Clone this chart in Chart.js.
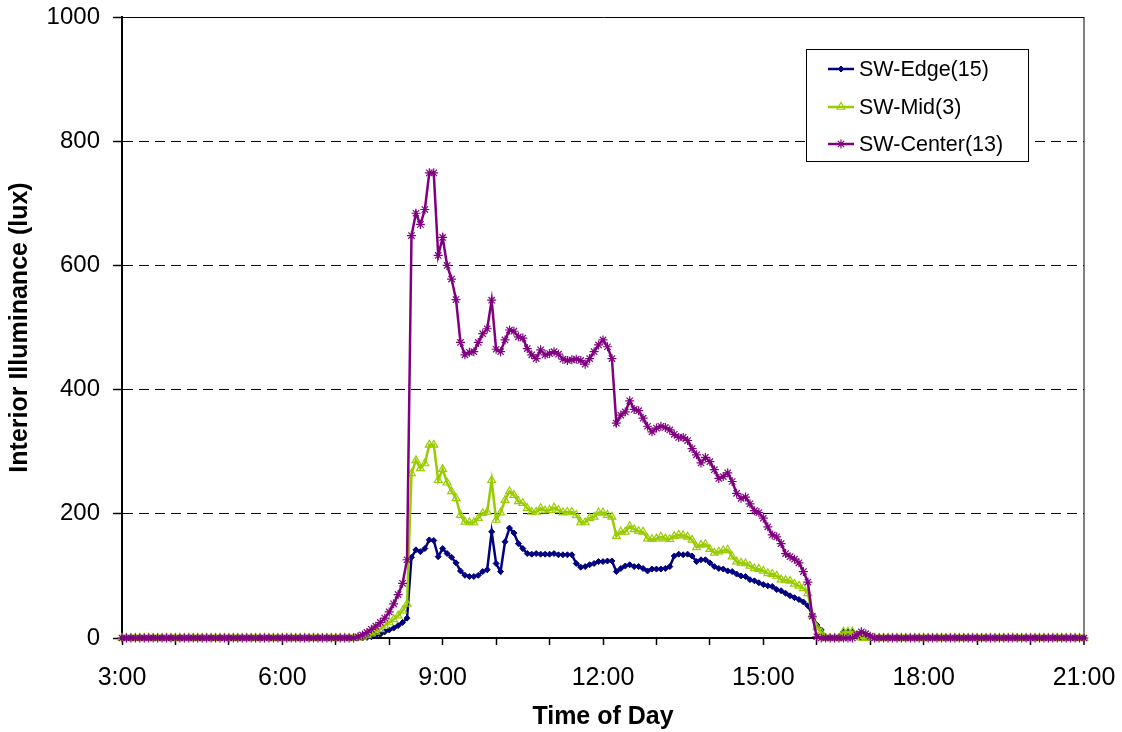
<!DOCTYPE html>
<html>
<head>
<meta charset="utf-8">
<script src="https://cdn.jsdelivr.net/npm/chart.js@4.4.1/dist/chart.umd.min.js"></script>
<style>
  html, body { margin: 0; padding: 0; background: #ffffff; }
  #wrap { width: 1122px; height: 732px; position: relative; background: #ffffff; }
  canvas { display: block; }
</style>
</head>
<body>
<div id="wrap"><canvas id="chart" width="1122" height="732"></canvas></div>
<script>
// ---- Data (5-minute readings from 3:00 to 21:00) ----
const startHour = 3;
const stepMinutes = 5;

const seriesNames = ['SW-Edge(15)', 'SW-Mid(3)', 'SW-Center(13)'];

const edgeValues = [
  0,0,0,0,0,0,0,0,0,0,0,0,                       // 3:00
  0,0,0,0,0,0,0,0,0,0,0,0,                       // 4:00
  0,0,0,0,0,0,0,0,0,0,0,0,                       // 5:00
  0,0,0,0,0,0,0,0,0,0,0,0,                       // 6:00
  0,0,0,0,0,0,0,1,2,4,6,10,                      // 7:00
  13,16,20,25,32,130,142,139,144,158,157,131,    // 8:00
  144,136,130,121,108,101,99,99,101,107,110,171, // 9:00
  120,107,155,177,169,152,144,136,135,136,135,135, // 10:00
  135,136,134,134,134,134,120,114,115,118,120,123, // 11:00
  123,124,124,107,112,116,118,115,115,112,108,111, // 12:00
  111,111,112,115,132,135,134,135,132,123,126,126, // 13:00
  121,115,112,111,108,107,103,100,99,94,92,89,   // 14:00
  86,84,83,78,76,72,68,65,62,58,52,37,           // 15:00
  21,13,0,0,0,0,10,10,10,3,0,0,                  // 16:00
  0,0,0,0,0,0,0,0,0,0,0,0,                       // 17:00
  0,0,0,0,0,0,0,0,0,0,0,0,                       // 18:00
  0,0,0,0,0,0,0,0,0,0,0,0,                       // 19:00
  0,0,0,0,0,0,0,0,0,0,0,0,                       // 20:00
  0                                              // 21:00
];

const midValues = [
  0,0,0,0,0,0,0,0,0,0,0,0,
  0,0,0,0,0,0,0,0,0,0,0,0,
  0,0,0,0,0,0,0,0,0,0,0,0,
  0,0,0,0,0,0,0,0,0,0,0,0,
  0,0,0,0,0,0,2,4,7,10,14,20,
  25,30,36,44,55,265,286,273,281,311,311,254,
  272,250,236,225,198,187,186,186,193,201,203,254,
  190,202,222,236,230,220,217,209,203,203,209,205,
  206,210,206,202,203,203,198,186,186,193,195,202,
  202,198,195,164,171,171,180,175,172,171,160,159,
  160,163,160,159,164,166,165,163,158,146,150,151,
  143,137,139,141,142,131,123,121,120,116,112,111,
  108,104,103,100,94,93,92,87,84,80,72,36,
  17,9,0,0,0,0,10,10,10,4,0,0,
  0,0,0,0,0,0,0,0,0,0,0,0,
  0,0,0,0,0,0,0,0,0,0,0,0,
  0,0,0,0,0,0,0,0,0,0,0,0,
  0,0,0,0,0,0,0,0,0,0,0,0,
  0
];

const centerValues = [
  0,0,0,0,0,0,0,0,0,0,0,0,
  0,0,0,0,0,0,0,0,0,0,0,0,
  0,0,0,0,0,0,0,0,0,0,0,0,
  0,0,0,0,0,0,0,0,0,0,0,0,
  0,0,0,0,0,2,5,9,14,19,25,32,
  42,55,70,88,126,648,684,666,690,749,749,616,
  645,600,578,545,476,456,460,461,476,490,498,544,
  465,461,480,496,494,485,483,466,456,450,464,456,
  458,461,457,449,447,448,449,447,441,450,461,472,
  480,469,450,346,359,364,382,368,366,354,341,332,
  338,341,339,335,328,323,323,318,305,295,282,291,
  284,271,257,260,266,252,233,225,227,216,205,202,
  193,179,166,163,152,136,131,127,121,107,90,35,
  2,0,0,0,0,0,0,0,0,5,10,7,
  3,0,0,0,0,0,0,0,0,0,0,0,
  0,0,0,0,0,0,0,0,0,0,0,0,
  0,0,0,0,0,0,0,0,0,0,0,0,
  0,0,0,0,0,0,0,0,0,0,0,0,
  0
];

const xTickHours = [3, 6, 9, 12, 15, 18, 21];
const xTickLabels = ['3:00', '6:00', '9:00', '12:00', '15:00', '18:00', '21:00'];
const yTickValues = [0, 200, 400, 600, 800, 1000];
const yTickLabels = ['0', '200', '400', '600', '800', '1000'];
const xTitle = 'Time of Day';
const yTitle = 'Interior Illuminance (lux)';

// ---- Build points ----
function toPoints(values) {
  return values.map((v, i) => ({ x: startHour + (i * stepMinutes) / 60, y: v }));
}

const FONT = "'Liberation Sans', Arial, sans-serif";
Chart.defaults.font.family = FONT;
Chart.defaults.color = '#000000';

const legendPlugin = {
  id: 'boxLegend',
  afterDraw(chart) {
    const ctx = chart.ctx;
    const box = { x: 806, y: 49, w: 222, h: 112 };
    ctx.save();
    ctx.fillStyle = '#ffffff';
    ctx.fillRect(box.x, box.y, box.w, box.h);
    ctx.strokeStyle = '#000000';
    ctx.lineWidth = 1;
    ctx.strokeRect(box.x + 0.5, box.y + 0.5, box.w, box.h);
    const rows = [69, 107, 144];
    chart.data.datasets.forEach((ds, i) => {
      const y = rows[i];
      ctx.strokeStyle = ds.borderColor;
      ctx.lineWidth = 2.5;
      ctx.beginPath();
      ctx.moveTo(828, y);
      ctx.lineTo(854, y);
      ctx.stroke();
      ctx.fillStyle = ds.pointBackgroundColor;
      ctx.strokeStyle = ds.pointBorderColor;
      ctx.lineWidth = ds.pointBorderWidth;
      Chart.helpers.drawPoint(ctx, { pointStyle: ds.pointStyle, radius: ds.pointRadius, rotation: 0, borderWidth: ds.pointBorderWidth }, 841, y);
      ctx.fillStyle = '#000000';
      ctx.font = '21.5px ' + FONT;
      ctx.textBaseline = 'middle';
      ctx.textAlign = 'left';
      ctx.fillText(ds.label, 859, y + 1);
    });
    ctx.restore();
  }
};

new Chart(document.getElementById('chart'), {
  type: 'line',
  data: {
    datasets: [
      {
        label: seriesNames[0],
        data: toPoints(edgeValues),
        borderColor: '#000080',
        backgroundColor: '#000080',
        pointBackgroundColor: '#000080',
        pointBorderColor: '#000080',
        pointStyle: 'rectRot',
        pointRadius: 3,
        pointBorderWidth: 1,
        borderWidth: 2.5,
        order: 3
      },
      {
        label: seriesNames[1],
        data: toPoints(midValues),
        borderColor: '#99CC00',
        backgroundColor: '#99CC00',
        pointBackgroundColor: 'rgba(255,255,255,0)',
        pointBorderColor: '#99CC00',
        pointStyle: 'triangle',
        pointRadius: 4.5,
        pointBorderWidth: 1.2,
        borderWidth: 2.5,
        order: 2
      },
      {
        label: seriesNames[2],
        data: toPoints(centerValues),
        borderColor: '#800080',
        backgroundColor: '#800080',
        pointBackgroundColor: '#800080',
        pointBorderColor: '#800080',
        pointStyle: 'star',
        pointRadius: 4.5,
        pointBorderWidth: 1.2,
        borderWidth: 2.5,
        order: 1
      }
    ]
  },
  options: {
    responsive: false,
    animation: false,
    devicePixelRatio: 1,
    layout: { padding: { top: 17, right: 38, bottom: 0, left: 0 } },
    datasets: { line: { tension: 0, clip: false, fill: false } },
    plugins: {
      legend: { display: false },
      tooltip: { enabled: false }
    },
    scales: {
      x: {
        type: 'linear',
        position: 'bottom',
        min: 3,
        max: 21,
        afterFit(scale) {
          scale.height = 94;
          scale.paddingLeft = 0;
          scale.paddingRight = 0;
        },
        afterBuildTicks(scale) {
          const t = [];
          for (let h = 3; h <= 21; h++) t.push({ value: h });
          scale.ticks = t;
        },
        ticks: {
          autoSkip: false,
          maxRotation: 0,
          font: { size: 25 },
          color: '#000000',
          padding: 18,
          callback(v) {
            const k = xTickHours.indexOf(v);
            return k >= 0 ? xTickLabels[k] : '';
          }
        },
        grid: {
          drawOnChartArea: true,
          color(ctx) { return ctx.tick && ctx.tick.value === 21 ? '#808080' : 'rgba(0,0,0,0)'; },
          lineWidth(ctx) { return ctx.tick && ctx.tick.value === 21 ? 2 : 1; },
          tickColor: '#000000',
          tickWidth: 1.5,
          tickLength: 7
        },
        border: { display: true, color: '#000000', width: 2 },
        title: {
          display: true,
          text: xTitle,
          font: { size: 25, weight: 'bold' },
          color: '#000000',
          padding: { top: 0, bottom: 0 }
        }
      },
      y: {
        min: 0,
        max: 1000,
        afterFit(scale) {
          scale.width = 122;
          scale.paddingTop = 0;
          scale.paddingBottom = 0;
        },
        afterBuildTicks(scale) {
          scale.ticks = yTickValues.map(v => ({ value: v }));
        },
        ticks: {
          font: { size: 24 },
          color: '#000000',
          padding: 13,
          callback(v) {
            const k = yTickValues.indexOf(v);
            return k >= 0 ? yTickLabels[k] : '';
          }
        },
        grid: {
          color(ctx) {
            if (!ctx.tick) return 'rgba(0,0,0,0)';
            return ctx.tick.value === 0 ? 'rgba(0,0,0,0)' : '#000000';
          },
          lineWidth: 1,
          tickColor: '#000000',
          tickWidth: 1.5,
          tickLength: 9
        },
        border: {
          display: true,
          color: '#000000',
          width: 2,
          dash(ctx) {
            if (!ctx.tick) return [];
            return (ctx.tick.value === 0 || ctx.tick.value === 1000) ? [] : [10, 6];
          }
        },
        title: {
          display: true,
          text: yTitle,
          font: { size: 25, weight: 'bold' },
          color: '#000000',
          padding: { top: 5, bottom: 0 }
        }
      }
    }
  },
  plugins: [legendPlugin]
});
</script>
</body>
</html>
